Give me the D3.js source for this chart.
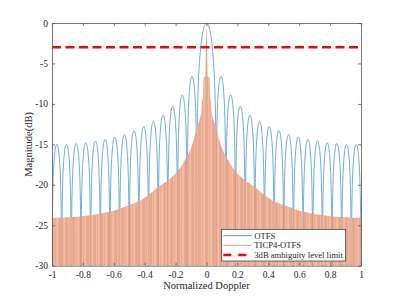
<!DOCTYPE html>
<html lang="en">
<head>
<meta charset="UTF-8">
<title>ambiguity</title>
<script src="https://d3js.org/d3.v7.min.js"></script>
<style>
    html, body { margin: 0; padding: 0; background: #fff; }
    text { font-family: "Liberation Serif", "Times New Roman", serif; fill: #262626; }
    .axis path, .axis line { stroke: #555; stroke-width: 0.8; }
</style>
</head>
<body>
<div id="chart"></div>
<script>

    // ---- data ----

    // OTFS: sidelobe peaks (dB), from the first lobe next to the main lobe outwards
    var lobePeaks = [-6.6, -8.9, -10.3, -11.4, -12.2, -12.8, -13.3, -13.8, -14.1, -14.4, -14.6, -14.8, -14.9, -15.0, -15.0];
    var lobeWidth = 0.0625;            // null spacing in normalized Doppler
    // main lobe, right half (x, dB)
    var mainX  = [0, 0.01, 0.02, 0.03, 0.04, 0.05, 0.055, 0.06, 0.0625];
    var mainDb = [0, -0.2, -0.8, -1.8, -3.5, -6.3, -8.8, -13.8, -40];
    // shape of one sidelobe: position inside the lobe and drop from its peak (dB)
    var lobeT    = [0, 0.005, 0.02, 0.05, 0.1, 0.2, 0.3, 0.4, 0.5, 0.6, 0.7, 0.8, 0.9, 0.95, 0.98, 0.995, 1];
    var lobeDrop = [-40, -18, -12, -8.1, -5.1, -2.3, -0.9, -0.2, 0, -0.2, -0.9, -2.3, -5.1, -8.1, -12, -18, -40];

    // TICP4-OTFS: upper envelope, right half (x, dB)
    var ticpX  = [0, 0.004, 0.007, 0.012, 0.02, 0.023, 0.03, 0.033, 0.045, 0.063, 0.096, 0.12, 0.16, 0.2, 0.25, 0.31, 0.37, 0.43, 0.5, 0.6, 0.7, 0.8, 0.9, 1.0];
    var ticpDb = [0, -2.5, -6.6, -6.6, -6.8, -9.3, -9.6, -11, -12, -13, -15.3, -16.3, -17.6, -18.6, -19.5, -20.2, -21.2, -22.0, -22.5, -23.2, -23.6, -23.9, -24.0, -24.1];

    var limitDb = -3;

    var xTicks = [-1, -0.8, -0.6, -0.4, -0.2, 0, 0.2, 0.4, 0.6, 0.8, 1];
    var yTicks = [0, -5, -10, -15, -20, -25, -30];
    var legendLabels = ["OTFS", "TICP4-OTFS", "3dB ambiguity level limit"];

    // ---- layout ----
    var W = 399, H = 299;
    var pl = 52, pr = 361, pt = 23, pb = 265.7;

    var x = d3.scaleLinear().domain([-1, 1]).range([pl, pr]);
    var y = d3.scaleLinear().domain([-30, 0]).range([pb, pt]);

    var svg = d3.select("#chart").append("svg")
        .attr("width", W)
        .attr("height", H);

    var defs = svg.append("defs");
    defs.append("clipPath").attr("id", "clip")
        .append("rect")
        .attr("x", pl).attr("y", pt)
        .attr("width", pr - pl).attr("height", pb - pt);

    // streaky look of the densely oscillating orange trace
    var pat = defs.append("pattern").attr("id", "streaks")
        .attr("patternUnits", "userSpaceOnUse")
        .attr("width", 7).attr("height", 10);
    pat.append("rect").attr("width", 7).attr("height", 10).attr("fill", "#E99E7D");
    pat.append("rect").attr("x", 0.5).attr("width", 1.2).attr("height", 10).attr("fill", "#F2BBA2");
    pat.append("rect").attr("x", 3.6).attr("width", 0.7).attr("height", 10).attr("fill", "#DD8C69");
    pat.append("rect").attr("x", 5.2).attr("width", 0.8).attr("height", 10).attr("fill", "#EFB091");

    var plot = svg.append("g").attr("clip-path", "url(#clip)");

    // OTFS lobes
    var lobes = [];
    var mainPts = [];
    for (var i = mainX.length - 1; i > 0; i--) mainPts.push({X: -mainX[i], Y: mainDb[i]});
    for (i = 0; i < mainX.length; i++) mainPts.push({X: mainX[i], Y: mainDb[i]});
    lobes.push(mainPts);
    lobePeaks.forEach(function(p, k) {
        [1, -1].forEach(function(side) {
            var a = (k + 1) * lobeWidth * side, b = (k + 2) * lobeWidth * side;
            lobes.push(lobeT.map(function(t, j) {
                return {X: a + t * (b - a), Y: p + lobeDrop[j]};
            }).sort(function(u, v) { return u.X - v.X; }));
        });
    });

    var line = d3.line()
        .x(function(d) { return x(d.X); })
        .y(function(d) { return y(d.Y); })
        .curve(d3.curveMonotoneX);

    plot.selectAll(".otfs").data(lobes).enter().append("path")
        .attr("class", "otfs")
        .attr("fill", "none")
        .attr("stroke", "#5aa3d8")
        .attr("stroke-width", 0.9)
        .attr("d", line);

    // TICP4-OTFS filled envelope
    var ticp = [];
    for (i = ticpX.length - 1; i > 0; i--) ticp.push({X: -ticpX[i], Y: ticpDb[i]});
    for (i = 0; i < ticpX.length; i++) ticp.push({X: ticpX[i], Y: ticpDb[i]});

    var area = d3.area()
        .x(function(d) { return x(d.X); })
        .y0(y(-30))
        .y1(function(d) { return y(d.Y); })
        .curve(d3.curveLinear);

    plot.append("path")
        .datum(ticp)
        .attr("fill", "url(#streaks)")
        .attr("fill-opacity", 0.85)
        .attr("d", area);

    // 3 dB limit
    plot.append("line")
        .attr("x1", x(-1)).attr("x2", x(1))
        .attr("y1", y(limitDb)).attr("y2", y(limitDb))
        .attr("stroke", "#ff0000")
        .attr("stroke-width", 2.5)
        .attr("stroke-dasharray", "9,4.5");

    // axes (MATLAB style box, ticks inward)
    var fmt = function(d) { return String(d); };
    svg.append("g").attr("class", "axis")
        .attr("transform", "translate(0," + pb + ")")
        .call(d3.axisBottom(x).tickValues(xTicks).tickSizeInner(-3).tickSizeOuter(0).tickPadding(6).tickFormat(fmt));
    svg.append("g").attr("class", "axis")
        .attr("transform", "translate(0," + pt + ")")
        .call(d3.axisTop(x).tickValues(xTicks).tickSizeInner(-3).tickSizeOuter(0).tickFormat(""));
    svg.append("g").attr("class", "axis")
        .attr("transform", "translate(" + pl + ",0)")
        .call(d3.axisLeft(y).tickValues(yTicks).tickSizeInner(-3).tickSizeOuter(0).tickPadding(4).tickFormat(fmt));
    svg.append("g").attr("class", "axis")
        .attr("transform", "translate(" + pr + ",0)")
        .call(d3.axisRight(y).tickValues(yTicks).tickSizeInner(-3).tickSizeOuter(0).tickFormat(""));

    svg.selectAll(".axis text")
        .style("font-family", "'Liberation Serif', serif")
        .style("font-size", "9.5px")
        .attr("fill", "#262626");

    svg.append("text")
        .attr("x", (pl + pr) / 2)
        .attr("y", 289)
        .attr("text-anchor", "middle")
        .style("font-size", "10.5px")
        .text("Normalized Doppler");

    svg.append("text")
        .attr("transform", "translate(32," + ((pt + pb) / 2) + ") rotate(-90)")
        .attr("text-anchor", "middle")
        .style("font-size", "10.5px")
        .text("Magnitude(dB)");

    // legend
    var lg = svg.append("g").attr("transform", "translate(221.7,229.3)");
    lg.append("rect")
        .attr("width", 124).attr("height", 31.7)
        .attr("fill", "#fff")
        .attr("stroke", "#333")
        .attr("stroke-width", 0.7);
    var legendStyle = [
        {stroke: "#5aa3d8", width: 1, dash: null},
        {stroke: "#E8A07F", width: 1, dash: null},
        {stroke: "#ff0000", width: 2.5, dash: "8,7"}
    ];
    legendLabels.forEach(function(t, k) {
        var yy = 6.4 + k * 9.6;
        lg.append("line")
            .attr("x1", 1.6).attr("x2", 30)
            .attr("y1", yy).attr("y2", yy)
            .attr("stroke", legendStyle[k].stroke)
            .attr("stroke-width", legendStyle[k].width)
            .attr("stroke-dasharray", legendStyle[k].dash);
        lg.append("text")
            .attr("x", 32.6).attr("y", yy + 3)
            .style("font-size", "8.6px")
            .text(t);
    });

</script>
</body>
</html>
